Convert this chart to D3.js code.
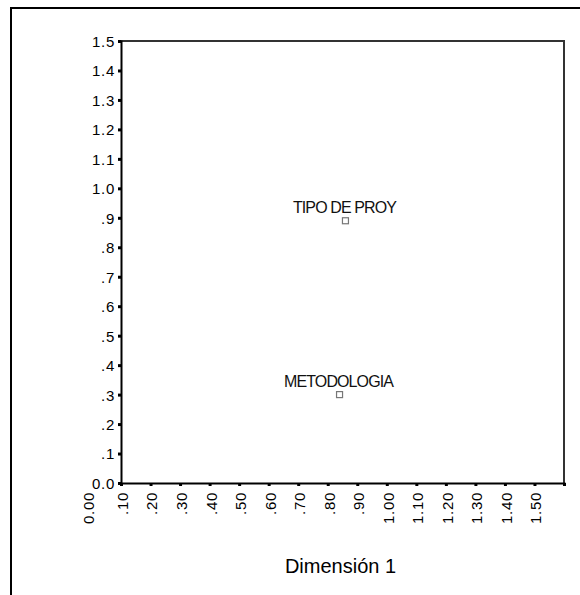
<!DOCTYPE html>
<html>
<head>
<meta charset="utf-8">
<script src="https://cdn.jsdelivr.net/npm/d3@7"></script>
<style>
  html, body { margin: 0; padding: 0; background: #fff; }
  svg { display: block; font-family: "Liberation Sans", Arial, sans-serif; }
</style>
</head>
<body>
<svg id="chart" width="580" height="595"></svg>
<script>
// Category quantifications on dimension 1 (x) and dimension 2 (y)
const categories = ["TIPO DE PROY", "METODOLOGIA"];
const dim1Values = [0.86, 0.84];
const dim2Values = [0.89, 0.30];

// Axis ticks and their printed labels
const xTickValues = [0.1, 0.2, 0.3, 0.4, 0.5, 0.6, 0.7, 0.8, 0.9, 1.0, 1.1, 1.2, 1.3, 1.4, 1.5, 1.6];
const xTickLabels = [".10", ".20", ".30", ".40", ".50", ".60", ".70", ".80", ".90", "1.00", "1.10", "1.20", "1.30", "1.40", "1.50", ""];
const xOriginValue = 0.0;
const xOriginLabel = "0.00";
const yTickValues = [0.0, 0.1, 0.2, 0.3, 0.4, 0.5, 0.6, 0.7, 0.8, 0.9, 1.0, 1.1, 1.2, 1.3, 1.4, 1.5];
const yTickLabels = ["0.0", ".1", ".2", ".3", ".4", ".5", ".6", ".7", ".8", ".9", "1.0", "1.1", "1.2", "1.3", "1.4", "1.5"];
const xTitle = "Dimensión 1";

const svg = d3.select("#chart");

const plot = { left: 121, right: 564, top: 41, bottom: 483 };

const x = d3.scaleLinear().domain([0.1, 1.6]).range([plot.left, plot.right]);
const y = d3.scaleLinear().domain([0.0, 1.5]).range([plot.bottom, plot.top]);

const tickFont = "15px";
const tickSpacing = "0.7px";

// Outer frame (top and left edges)
svg.append("path")
  .attr("d", `M11,595 V8 H580`)
  .attr("fill", "none")
  .attr("stroke", "#000")
  .attr("stroke-width", 2);

// Plot frame: top and right edges
svg.append("path")
  .attr("d", `M${plot.left},${plot.top} H${plot.right} V${plot.bottom}`)
  .attr("fill", "none")
  .attr("stroke", "#333")
  .attr("stroke-width", 2);

// Y axis
const yAxis = svg.append("g")
  .attr("transform", `translate(${plot.left},0)`)
  .call(d3.axisLeft(y)
    .tickValues(yTickValues)
    .tickFormat((d, i) => yTickLabels[i])
    .tickSize(3)
    .tickPadding(3));
yAxis.select(".domain").attr("stroke", "#000").attr("stroke-width", 2);
yAxis.selectAll(".tick line").attr("stroke", "#000").attr("stroke-width", 3);
yAxis.selectAll(".tick text")
  .attr("fill", "#000")
  .style("font-size", tickFont)
  .style("letter-spacing", tickSpacing)
  .attr("dy", "0.36em");

// X axis
const xAxis = svg.append("g")
  .attr("transform", `translate(0,${plot.bottom})`)
  .call(d3.axisBottom(x)
    .tickValues(xTickValues)
    .tickFormat((d, i) => xTickLabels[i])
    .tickSize(3)
    .tickPadding(0));
xAxis.select(".domain").attr("stroke", "#000").attr("stroke-width", 2);
xAxis.selectAll(".tick line").attr("stroke", "#000").attr("stroke-width", 3);
xAxis.selectAll(".tick text")
  .attr("fill", "#000")
  .style("font-size", tickFont)
  .style("letter-spacing", tickSpacing)
  .attr("text-anchor", "end")
  .attr("transform", "rotate(-90)")
  .attr("x", -9)
  .attr("y", 1)
  .attr("dy", "0.36em");

// Origin label printed without a tick mark
svg.append("text")
  .attr("transform", `translate(${x(xOriginValue) - 3},${plot.bottom + 9}) rotate(-90)`)
  .attr("text-anchor", "end")
  .attr("dy", "0.36em")
  .attr("fill", "#000")
  .style("font-size", tickFont)
  .style("letter-spacing", tickSpacing)
  .text(xOriginLabel);

// Axis title
svg.append("text")
  .attr("x", (plot.left + plot.right) / 2 - 2)
  .attr("y", 573)
  .attr("text-anchor", "middle")
  .attr("fill", "#000")
  .style("font-size", "20px")
  .text(xTitle);

// Points with their category labels
const pts = categories.map((c, i) => ({ name: c, d1: dim1Values[i], d2: dim2Values[i] }));

const g = svg.append("g");
g.selectAll("rect.pt")
  .data(pts)
  .enter().append("rect")
  .attr("class", "pt")
  .attr("x", d => x(d.d1) - 3)
  .attr("y", d => y(d.d2) - 3)
  .attr("width", 6)
  .attr("height", 6)
  .attr("fill", "#fff")
  .attr("stroke", "#777")
  .attr("stroke-width", 1.2);

g.selectAll("text.lbl")
  .data(pts)
  .enter().append("text")
  .attr("class", "lbl")
  .attr("x", d => x(d.d1) - 1)
  .attr("y", d => y(d.d2) - 8)
  .attr("text-anchor", "middle")
  .attr("fill", "#111")
  .style("font-size", "16px")
  .style("letter-spacing", "-0.9px")
  .text(d => d.name);
</script>
</body>
</html>
